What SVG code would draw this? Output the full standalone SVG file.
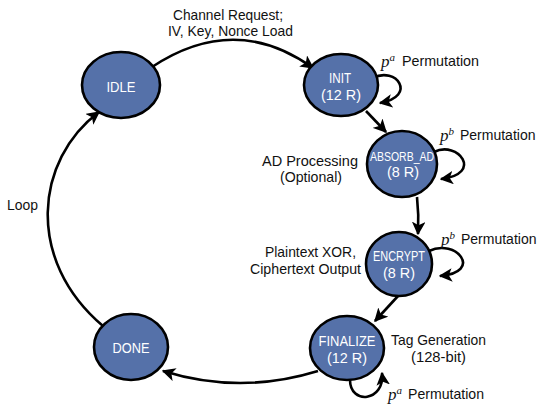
<svg xmlns="http://www.w3.org/2000/svg" width="541" height="405" viewBox="0 0 541 405">
<defs>
<marker id="ah" viewBox="0 0 10 10" refX="9" refY="5" markerWidth="5.2" markerHeight="5.2" orient="auto" markerUnits="strokeWidth">
<path d="M0,0 L10,5 L0,10 L2.5,5 Z" fill="#000"/>
</marker>
<style>
.node{fill:#5571a9;stroke:#000;stroke-width:2.6}
.nl{font-family:"Liberation Sans",Arial,sans-serif;font-size:15px;fill:#fff;text-anchor:middle}
.lb{font-family:"Liberation Sans",Arial,sans-serif;font-size:15px;fill:#111}
.lb14{font-family:"Liberation Sans",Arial,sans-serif;font-size:14px;fill:#111}
.p{font-family:"Liberation Serif","Times New Roman",serif;font-style:italic;font-size:17px;fill:#111}
.sup{font-family:"Liberation Serif","Times New Roman",serif;font-style:italic;font-size:11px;fill:#111}
.e{fill:none;stroke:#000;stroke-width:2.6;marker-end:url(#ah)}
</style>
</defs>
<rect width="541" height="405" fill="#fff"/>
<g id="connectors">
<path class="e" d="M152,67 Q235,12 313,68"/>
<path class="e" d="M373,78 C396,66 418,96 380,103"/>
<path class="e" d="M366,111 L386,132"/>
<path class="e" d="M434,152 C458,140 484,174 441,179"/>
<path class="e" d="M417,197 Q419,215 418,234"/>
<path class="e" d="M429,251 C456,238 484,272 440,276"/>
<path class="e" d="M398,296 L375,321"/>
<path class="e" d="M318,371 Q240,395 163,371"/>
<path class="e" d="M350,380 C350,405 385,402 382,373"/>
<path class="e" d="M103,326 C25,260 35,160 99,112"/>
</g>
<g id="n-idle"><ellipse class="node" cx="121" cy="85" rx="39" ry="33"/><text class="nl" x="121" y="92" textLength="29" lengthAdjust="spacingAndGlyphs">IDLE</text></g>
<g id="n-init"><ellipse class="node" cx="341" cy="85" rx="37" ry="31"/><text class="nl" x="340" y="83" textLength="22" lengthAdjust="spacingAndGlyphs">INIT</text><text class="nl" x="341" y="100" textLength="40" lengthAdjust="spacingAndGlyphs">(12 R)</text></g>
<g id="n-absorb"><ellipse class="node" cx="402" cy="164" rx="35" ry="33"/><text class="nl" x="402" y="161" style="font-size:12.5px" textLength="64" lengthAdjust="spacingAndGlyphs">ABSORB_AD</text><text class="nl" x="403" y="177" textLength="32" lengthAdjust="spacingAndGlyphs">(8 R)</text></g>
<g id="n-encrypt"><ellipse class="node" cx="399" cy="264" rx="33" ry="32"/><text class="nl" x="399" y="261" textLength="52" lengthAdjust="spacingAndGlyphs">ENCRYPT</text><text class="nl" x="399" y="278" textLength="32" lengthAdjust="spacingAndGlyphs">(8 R)</text></g>
<g id="n-finalize"><ellipse class="node" cx="347" cy="348" rx="37" ry="32"/><text class="nl" x="347" y="346" textLength="57" lengthAdjust="spacingAndGlyphs">FINALIZE</text><text class="nl" x="347" y="363" textLength="40" lengthAdjust="spacingAndGlyphs">(12 R)</text></g>
<g id="n-done"><ellipse class="node" cx="131" cy="347" rx="37" ry="33"/><text class="nl" x="131" y="353" textLength="37" lengthAdjust="spacingAndGlyphs">DONE</text></g>
<g id="labels">
<text class="lb" x="173" y="20" textLength="110" lengthAdjust="spacingAndGlyphs">Channel Request;</text>
<text class="lb" x="168" y="36" textLength="125" lengthAdjust="spacingAndGlyphs">IV, Key, Nonce Load</text>
<text class="lb" x="262" y="166" textLength="96" lengthAdjust="spacingAndGlyphs">AD Processing</text>
<text class="lb" x="280" y="182" textLength="62" lengthAdjust="spacingAndGlyphs">(Optional)</text>
<text class="lb" x="265" y="257" textLength="91" lengthAdjust="spacingAndGlyphs">Plaintext XOR,</text>
<text class="lb" x="250" y="274" textLength="111" lengthAdjust="spacingAndGlyphs">Ciphertext Output</text>
<text class="lb" x="391" y="345" textLength="95" lengthAdjust="spacingAndGlyphs">Tag Generation</text>
<text class="lb" x="411" y="362" textLength="55" lengthAdjust="spacingAndGlyphs">(128-bit)</text>
<text class="lb" x="7" y="210" textLength="31" lengthAdjust="spacingAndGlyphs">Loop</text>
<text x="381" y="67"><tspan class="p">p</tspan><tspan class="sup" dy="-6">a</tspan></text>
<text class="lb" x="402" y="66" textLength="77" lengthAdjust="spacingAndGlyphs">Permutation</text>
<text x="440" y="141"><tspan class="p">p</tspan><tspan class="sup" dy="-6">b</tspan></text>
<text class="lb14" x="460" y="140">Permutation</text>
<text x="441" y="245"><tspan class="p">p</tspan><tspan class="sup" dy="-6">b</tspan></text>
<text class="lb14" x="461" y="244">Permutation</text>
<text x="388" y="400"><tspan class="p">p</tspan><tspan class="sup" dy="-6">a</tspan></text>
<text class="lb" x="408" y="399" textLength="76" lengthAdjust="spacingAndGlyphs">Permutation</text>
</g>
</svg>
